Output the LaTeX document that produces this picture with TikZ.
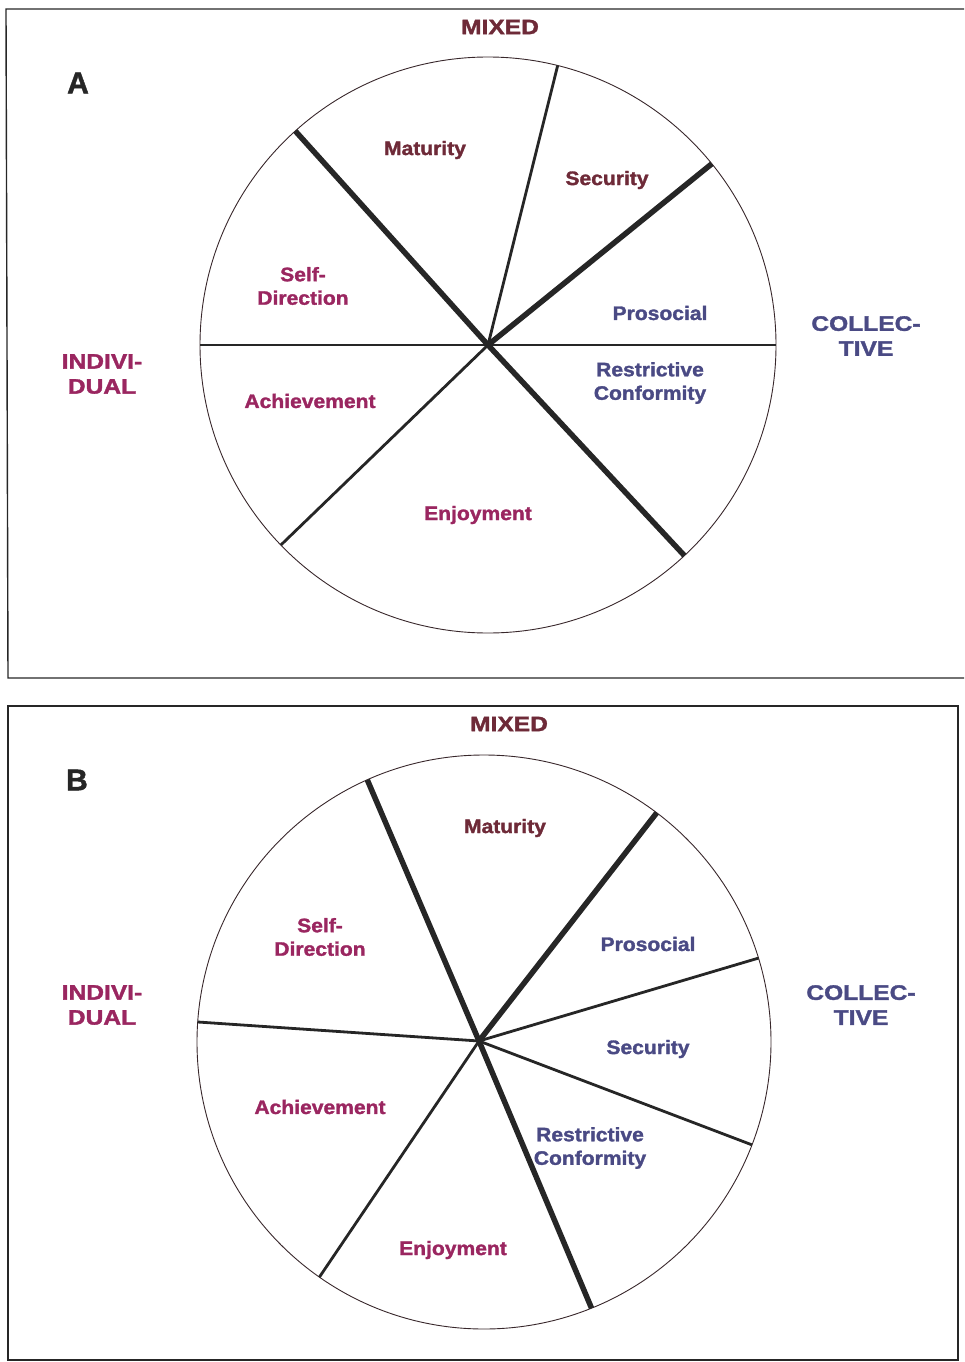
\documentclass[tikz,border=0pt]{standalone}
\usepackage{fontspec}
\setmainfont[BoldFeatures={FakeBold=1.5}]{Liberation Sans}
\definecolor{mixedc}{HTML}{6E2A38}
\definecolor{indc}{HTML}{9A2660}
\definecolor{colc}{HTML}{4A4A84}
\definecolor{inkc}{HTML}{262626}
\begin{document}
\begin{tikzpicture}[x=1pt,y=-1pt,
  frame/.style={draw=inkc, line width=1.4pt},
  rim/.style={circle, draw=inkc!75!mixedc, line width=0.9pt, inner sep=0pt, outer sep=0pt},
  heavy/.style={draw=inkc, line width=5.5pt},
  light/.style={draw=inkc, line width=2.8pt},
  axislbl/.style={font=\bfseries\fontsize{21}{25}\selectfont, align=center, xscale=1.17, transform shape, inner sep=0pt},
  sectorlbl/.style={font=\bfseries\fontsize{19.5}{23.5}\selectfont, align=center, xscale=1.08, transform shape, inner sep=0pt},
  panellbl/.style={font=\bfseries\fontsize{30}{30}\selectfont, text=inkc, inner sep=0pt}]
\useasboundingbox (0,0) rectangle (964,1362);

% ---------- panel A ----------
\draw[frame] (964,9) -- (6,9) -- (8,678) -- (964,678);
\node[rim, minimum size=576pt] (ringA) at (488,345) {};
\coordinate (hubA) at (488,345);
\draw[light] (hubA) -- (ringA.180);
\draw[light] (hubA) -- (ringA.0);
\draw[light] (hubA) -- (ringA.76.5);
\draw[light] (hubA) -- (ringA.224.9);
\draw[heavy] (hubA) -- (ringA.132.3);
\draw[heavy] (hubA) -- (ringA.39.6);
\draw[heavy] (hubA) -- (ringA.-47.6);

\node[panellbl] (labA) at (78,83) {A};
\node[axislbl, text=mixedc] (mixA) at (500,27) {MIXED};
\node[axislbl, text=indc] (indA) at (102,374) {INDIVI-\\DUAL};
\node[axislbl, text=colc] (colA) at (866,336) {COLLEC-\\TIVE};
\node[sectorlbl, text=mixedc] (matA) at (425,150) {Maturity};
\node[sectorlbl, text=mixedc] (secA) at (607,180) {Security};
\node[sectorlbl, text=indc] (sdA) at (303,286) {Self-\\Direction};
\node[sectorlbl, text=colc] (proA) at (660,313) {Prosocial};
\node[sectorlbl, text=colc] (rcA) at (650,383) {Restrictive\\Conformity};
\node[sectorlbl, text=indc] (achA) at (310,401) {Achievement};
\node[sectorlbl, text=indc] (enjA) at (478,515) {Enjoyment};

% ---------- panel B ----------
\draw[frame] (8,706) rectangle (958,1360);
\node[rim, minimum size=574pt] (ringB) at (484,1042) {};
\coordinate (hubB) at (479,1041);
\draw[light] (hubB) -- (ringB.176);
\draw[light] (hubB) -- (ringB.17.7);
\draw[light] (hubB) -- (ringB.-21.5);
\draw[light] (hubB) -- (ringB.235.9);
\draw[heavy] (hubB) -- (ringB.114.1);
\draw[heavy] (hubB) -- (ringB.53.2);
\draw[heavy] (hubB) -- (ringB.-68.8);

\node[panellbl] (labB) at (77,780) {B};
\node[axislbl, text=mixedc] (mixB) at (509,724) {MIXED};
\node[axislbl, text=indc] (indB) at (102,1005) {INDIVI-\\DUAL};
\node[axislbl, text=colc] (colB) at (861,1005) {COLLEC-\\TIVE};
\node[sectorlbl, text=mixedc] (matB) at (505,828) {Maturity};
\node[sectorlbl, text=indc] (sdB) at (320,937) {Self-\\Direction};
\node[sectorlbl, text=colc] (proB) at (648,944) {Prosocial};
\node[sectorlbl, text=colc] (secB) at (648,1049) {Security};
\node[sectorlbl, text=indc] (achB) at (320,1107) {Achievement};
\node[sectorlbl, text=colc] (rcB) at (590,1148) {Restrictive\\Conformity};
\node[sectorlbl, text=indc] (enjB) at (453,1250) {Enjoyment};
\end{tikzpicture}
\end{document}
